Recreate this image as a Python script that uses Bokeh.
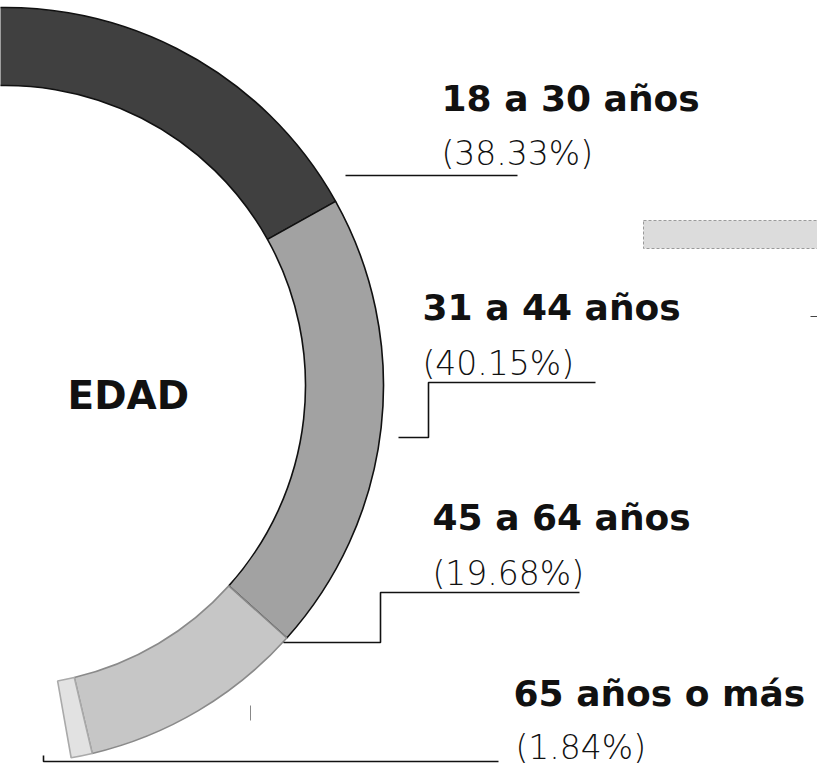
import math
from bokeh.plotting import figure
from bokeh.models import Range1d, ColumnDataSource
from bokeh.core.properties import value
from bokeh.embed import file_html
from bokeh.resources import INLINE

# ---- data ----
categories = ["18 a 30 años", "31 a 44 años", "45 a 64 años", "65 años o más"]
shares = [38.33, 40.15, 19.68, 1.84]
pct_labels = ["(38.33%)", "(40.15%)", "(19.68%)", "(1.84%)"]
center_label = "EDAD"

# ---- styles ----
colors = ["#404040", "#a2a2a2", "#c6c6c6", "#e2e2e2"]
edge_colors = ["#111111", "#111111", "#8a8a8a", "#aaaaaa"]

W, H = 817, 768
p = figure(width=W, height=H, x_range=Range1d(0, W), y_range=Range1d(0, H),
           output_backend="svg", toolbar_location=None, min_border=0)
p.axis.visible = False
p.grid.visible = False
p.outline_line_color = None
p.background_fill_color = "white"
p.border_fill_color = "white"

# ring geometry
cx, cy = 5, 383
r_in, r_out = 300, 378
start_deg, span_deg = 97.0, 177.0
total = sum(shares)
cum = [0.0]
for s in shares:
    cum.append(cum[-1] + s)
bounds = [start_deg - c / total * span_deg for c in cum]
src = ColumnDataSource(dict(
    start=[math.radians(bounds[i + 1]) for i in range(len(shares))],
    end=[math.radians(bounds[i]) for i in range(len(shares))],
    fill=colors, edge=edge_colors, cat=categories,
))
p.annular_wedge(x=cx, y=cy, inner_radius=r_in, outer_radius=r_out,
                start_angle="start", end_angle="end",
                fill_color="fill", line_color="edge", line_width=1.6, source=src)

# artifacts of the scan
p.quad(left=[643], right=[817], bottom=[520], top=[548], fill_color="#dcdcdc",
       line_color="#9a9a9a", line_dash="3 2", line_width=1)
p.line(x=[250, 250], y=[48, 63], line_color="#888888", line_width=1)
p.line(x=[810, 817], y=[452, 452], line_color="#444444", line_width=1)

# leader lines
leaders = [
    ([345, 517], [593, 593]),
    ([398, 428, 428, 595], [331, 331, 386, 386]),
    ([283, 380, 380, 579], [126, 126, 176, 176]),
    ([43, 43, 498], [13, 7, 7]),
]
for xs, ys in leaders:
    p.line(x=xs, y=ys, line_color="#111111", line_width=1.6)

# labels
lab_x = [441, 422, 432, 513]
lab_y = [670, 461, 251, 75]
pct_x = [441, 422, 432, 515]
pct_y = [615, 405, 195, 21]
p.text(x=lab_x, y=lab_y, text=categories, text_font=value("DejaVu Sans"),
       text_font_style="bold", text_font_size="36px", text_color="#111111",
       text_baseline="alphabetic", text_align="left")
p.text(x=pct_x, y=pct_y, text=pct_labels, text_font=value("DejaVu Sans Light"),
       text_font_size="33px", text_color="#111111",
       text_baseline="alphabetic", text_align="left")
p.text(x=[67], y=[373], text=[center_label], text_font=value("DejaVu Sans"),
       text_font_style="bold", text_font_size="39px", text_color="#111111",
       text_baseline="alphabetic", text_align="left")

open("out.html", "w").write(file_html(p, INLINE))
